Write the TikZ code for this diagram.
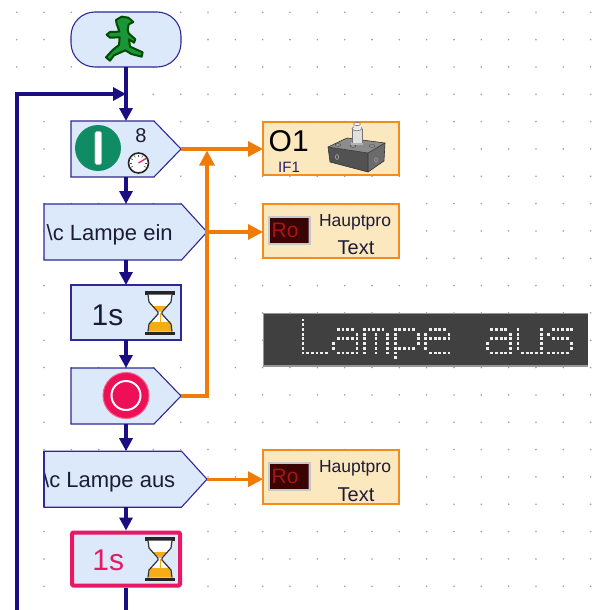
\documentclass[tikz,border=0pt]{standalone}
\usepackage{fontspec}
\setmainfont{Liberation Sans}
\usetikzlibrary{arrows.meta,calc}

\definecolor{flowline}{RGB}{26,14,130}
\definecolor{blockfill}{RGB}{220,233,251}
\definecolor{blockedge}{RGB}{48,40,150}
\definecolor{linkorange}{RGB}{240,124,8}
\definecolor{outfill}{RGB}{251,232,190}
\definecolor{outedge}{RGB}{242,140,30}
\definecolor{griddot}{RGB}{160,160,160}
\definecolor{ledbg}{RGB}{64,64,64}
\definecolor{ledframe}{RGB}{150,150,150}
\definecolor{leddot}{RGB}{240,240,240}
\definecolor{stopred}{RGB}{238,16,86}
\definecolor{stopedge}{RGB}{245,100,140}
\definecolor{gogreen}{RGB}{16,140,100}
\definecolor{walkgreen}{RGB}{26,150,56}
\definecolor{sand}{RGB}{245,172,22}
\definecolor{alertpink}{RGB}{232,24,100}
\definecolor{darktext}{RGB}{28,28,56}
\definecolor{porttext}{RGB}{40,30,110}
\definecolor{roframe}{RGB}{200,200,200}
\definecolor{robg}{RGB}{58,4,4}
\definecolor{rotext}{RGB}{170,20,20}
\definecolor{needle}{RGB}{235,40,110}

\tikzset{
  anchorbox/.style={rectangle, inner sep=0pt, outer sep=0pt, draw=none},
  blockshape/.style={fill=blockfill, draw=blockedge, line width=1.1pt},
  outshape/.style={fill=outfill, draw=outedge, line width=1.8pt},
  flow/.style={draw=flowline, line width=3.2pt, -{Triangle[length=13pt,width=13pt]}},
  flowplain/.style={draw=flowline, line width=3.2pt},
  linkline/.style={draw=linkorange, line width=3.2pt},
  link/.style={linkline, -{Triangle[length=15pt,width=15pt]}},
  leddot/.style={fill=leddot},
  bigtext/.style={font=\fontsize{30pt}{32pt}\selectfont},
  cmdtext/.style={font=\fontsize{22pt}{24pt}\selectfont, text=darktext},
}

% one dot-matrix glyph: #1 = left x, #2 = list of column/row dots
\newcommand{\ledglyph}[2]{%
  \foreach \c/\r in {#2}{%
    \fill[leddot] ({#1+4.65*\c-1.4},{320+4.72*\r-1.4}) rectangle ++(2.8,2.8);}}

% hourglass centred at (#1,#2)
\newcommand{\hglass}[2]{%
  \fill[black!85] ({#1-15},{#2-22}) rectangle ({#1+15},{#2-18.5});
  \fill[black!85] ({#1-15},{#2+18.5}) rectangle ({#1+15},{#2+22});
  \fill[white] ({#1-12},{#2-18.5}) -- ({#1-11},{#2-11}) -- ({#1-2},{#2-1}) -- ({#1-2},{#2+1})
    -- ({#1-11},{#2+11}) -- ({#1-12},{#2+18.5}) -- ({#1+12},{#2+18.5}) -- ({#1+11},{#2+11})
    -- ({#1+2},{#2+1}) -- ({#1+2},{#2-1}) -- ({#1+11},{#2-11}) -- ({#1+12},{#2-18.5}) -- cycle;
  \fill[sand] ({#1-7},{#2-7}) -- ({#1+7},{#2-7}) -- ({#1},{#2-1}) -- cycle;
  \fill[sand] ({#1-11.5},{#2+18.5}) -- ({#1-10},{#2+9}) -- ({#1+10},{#2+9}) -- ({#1+11.5},{#2+18.5}) -- cycle;
  \draw[sand, line width=1pt] ({#1},{#2}) -- ({#1},{#2+9});
  \draw[black!80, line width=1.2pt] ({#1-12},{#2-18.5}) -- ({#1-11},{#2-11}) -- ({#1-2},{#2-1})
    -- ({#1-2},{#2+1}) -- ({#1-11},{#2+11}) -- ({#1-12},{#2+18.5});
  \draw[black!80, line width=1.2pt] ({#1+12},{#2-18.5}) -- ({#1+11},{#2-11}) -- ({#1+2},{#2-1})
    -- ({#1+2},{#2+1}) -- ({#1+11},{#2+11}) -- ({#1+12},{#2+18.5});
}

% text display icon with frame at left x #1, top y #2
\newcommand{\roicon}[2]{%
  \fill[roframe] ({#1},{#2}) rectangle ({#1+43},{#2+29});
  \begin{scope}
    \clip ({#1+2},{#2+2}) rectangle ({#1+41},{#2+27});
    \fill[robg] ({#1+2},{#2+2}) rectangle ({#1+41},{#2+27});
    \node[anchor=base west, inner sep=0pt, text=rotext, font=\fontsize{21pt}{21pt}\selectfont]
      at ({#1+4},{#2+22}) {Ro};
  \end{scope}
}

\begin{document}
\begin{tikzpicture}[x=1pt, y=-1pt]
\useasboundingbox (0,0) rectangle (592,610);
\fill[white] (0,0) rectangle (592,610);

% dotted grid
\foreach \i in {0,...,21}{
  \foreach \j in {0,...,22}{
    \fill[griddot] ({16.7+27.33*\i},{12.3+27.33*\j}) circle (0.9);
  }
}

% ---- dot-matrix display ----
\fill[ledframe] (262.5,312.5) rectangle (588,366.5);
\fill[ledbg] (264,314) rectangle (588,365);
\node[anchorbox, minimum width=325pt, minimum height=54pt] (led) at (425.5,339.5) {};
\ledglyph{303}{0/0,0/1,0/2,0/3,0/4,0/5,0/6,0/7,1/7,2/7,3/7,4/7,5/7}
\ledglyph{333.7}{1/2,2/2,3/2,4/2,5/3,1/4,2/4,3/4,4/4,5/4,0/5,5/5,0/6,5/6,1/7,2/7,3/7,4/7,5/7}
\ledglyph{364.4}{0/2,1/2,2/2,3/2,4/2,0/3,0/4,0/5,0/6,0/7,2.5/3,2.5/4,2.5/5,2.5/6,2.5/7,5/3,5/4,5/5,5/6,5/7}
\ledglyph{395.1}{0/2,0/3,0/4,0/5,0/6,0/7,0/8,1/2,2/2,3/2,4/2,5/3,5/4,5/5,1/6,2/6,3/6,4/6}
\ledglyph{425.8}{1/2,2/2,3/2,4/2,0/3,5/3,0/4,1/4,2/4,3/4,4/4,5/4,0/5,0/6,1/7,2/7,3/7,4/7,5/7}
\ledglyph{487.2}{1/2,2/2,3/2,4/2,5/3,1/4,2/4,3/4,4/4,5/4,0/5,5/5,0/6,5/6,1/7,2/7,3/7,4/7,5/7}
\ledglyph{517.9}{0/2,0/3,0/4,0/5,0/6,5/2,5/3,5/4,5/5,5/6,5/7,1/7,2/7,3/7,4/7}
\ledglyph{548.6}{1/2,2/2,3/2,4/2,5/2,0/3,1/4,2/4,3/4,4/4,5/5,5/6,0/7,1/7,2/7,3/7,4/7}

% ---- block anchors ----
\node[anchorbox, minimum width=110pt, minimum height=55pt] (start) at (126,39.5) {};
\node[anchorbox, minimum width=110pt, minimum height=56pt] (out1) at (126,149) {};
\node[anchorbox, minimum width=163pt, minimum height=56pt] (txt1) at (125.5,232) {};
\node[anchorbox, minimum width=110pt, minimum height=55pt] (wait1) at (126,312.5) {};
\node[anchorbox, minimum width=110pt, minimum height=56pt] (stop) at (126,396) {};
\node[anchorbox, minimum width=163pt, minimum height=56pt] (txt2) at (125.5,479.2) {};
\node[anchorbox, minimum width=112pt, minimum height=57pt] (wait2) at (126,559) {};
\node[anchorbox, minimum width=136pt, minimum height=53pt] (o1box) at (331,148.5) {};
\node[anchorbox, minimum width=136pt, minimum height=54pt] (dsp1) at (331,231) {};
\node[anchorbox, minimum width=136pt, minimum height=54pt] (dsp2) at (331,477) {};

% ---- start terminal with walking figure ----
\draw[blockshape, rounded corners=24pt] (start.north west) rectangle (start.south east);
\begin{scope}[shift={(60,0)}, scale=1/3]
  \draw[fill=walkgreen, draw=black!70!green, line width=2pt, line join=round]
    (168,60) -- (185,50) -- (205,53) -- (220,66) -- (206,73) -- (203,88) -- (206,100)
    -- (226,118) -- (222,128) -- (207,118) -- (210,140) -- (248,157) -- (245,170)
    -- (214,162) -- (196,151) -- (162,166) -- (150,182) -- (138,172) -- (158,150)
    -- (177,135) -- (179,112) -- (150,113) -- (140,104) -- (150,96) -- (178,95)
    -- (175,85) -- (170,72) -- cycle;
\end{scope}

% ---- output block: lamp on, gauge ----
\draw[blockshape] (out1.north west) -- ([xshift=-27pt]out1.north east) -- (out1.east)
  -- ([xshift=-27pt]out1.south east) -- (out1.south west) -- cycle;
\fill[gogreen] (98,148) circle (23);
\draw[fill=white, draw=black!25, line width=0.6pt, rounded corners=1.5pt] (95,131.5) rectangle (101.5,164.5);
\node[anchor=base, inner sep=0pt, text=darktext, font=\fontsize{20pt}{20pt}\selectfont] at (141,142) {8};
\draw[fill=white, draw=black!85, line width=1.6pt] (138.5,163) circle (10);
\foreach \a in {150,180,210,240,270,300,330,0,30}{
  \draw[black!70, line width=0.6pt] ($(138.5,163)+(\a:6.5)$) -- ($(138.5,163)+(\a:8.5)$);
}
\draw[needle, line width=1.3pt] (138.5,163) -- (146,158.5);

% ---- command block: lamp text ----
\draw[blockshape] (txt1.north west) -- ([xshift=-25.5pt]txt1.north east) -- (txt1.east)
  -- ([xshift=-25.5pt]txt1.south east) -- (txt1.south west) -- cycle;
\node[cmdtext, anchor=base west, inner sep=0pt] at (46.5,240) {\textbackslash c Lampe ein};

% ---- wait block ----
\draw[blockshape] (wait1.north west) rectangle (wait1.south east);
\node[bigtext, anchor=base, inner sep=0pt, text=darktext] at (107.5,325) {1s};
\hglass{160}{313}

% ---- stop block ----
\draw[blockshape] (stop.north west) -- ([xshift=-27pt]stop.north east) -- (stop.east)
  -- ([xshift=-27pt]stop.south east) -- (stop.south west) -- cycle;
\draw[fill=stopred, draw=stopedge, line width=1pt] (126,395.5) circle (23);
\draw[white, line width=2pt] (126,395.5) circle (14.5);

% ---- command block: lamp off text ----
\draw[blockshape] (txt2.north west) -- ([xshift=-25.5pt]txt2.north east) -- (txt2.east)
  -- ([xshift=-25.5pt]txt2.south east) -- (txt2.south west) -- cycle;
\begin{scope}
  \clip (txt2.north west) rectangle (txt2.south east);
  \node[cmdtext, anchor=base west, inner sep=0pt] at (43,487.5) {\textbackslash c Lampe aus};
\end{scope}
\draw[draw=blockedge, line width=1.1pt] (txt2.north west) -- (txt2.south west);

% ---- highlighted wait block ----
\draw[fill=blockfill, draw=alertpink, line width=4pt, rounded corners=1.5pt]
  ([shift={(2pt,-2pt)}]wait2.north west) rectangle ([shift={(-2pt,2pt)}]wait2.south east);
\node[bigtext, anchor=base, inner sep=0pt, text=alertpink] at (108.3,570) {1s};
\hglass{160}{559}

% ---- lamp output O1 ----
\draw[outshape] (o1box.north west) rectangle (o1box.south east);
\node[bigtext, anchor=base west, inner sep=0pt, text=black] at (268.5,151.5) {O1};
\node[anchor=base west, inner sep=0pt, text=porttext, font=\fontsize{15pt}{15pt}\selectfont] at (278,172.5) {IF1};
% lamp module
\fill[black!68] (328,147) -- (368,153) -- (368,172) -- (330,162) -- cycle;
\fill[black!58] (368,153) -- (385,143) -- (384,161) -- (368,172) -- cycle;
\fill[black!45] (328,147) -- (347,138) -- (385,143) -- (368,153) -- cycle;
\draw[black!80, line width=0.6pt, line join=round] (328,147) -- (347,138) -- (385,143) -- (384,161)
  -- (368,172) -- (330,162) -- cycle;
\draw[black!80, line width=0.6pt] (328,147) -- (368,153) -- (385,143) (368,153) -- (368,172);
\foreach \p in {(338,145),(353,146),(360,142),(372,146)}{
  \draw[black!75, fill=black!35, line width=0.5pt] \p ellipse (2.6 and 1.3);
}
\draw[black!35, line width=0.6pt] (337,157) ellipse (1.6 and 2.4);
\draw[black!35, line width=0.6pt] (376,160) ellipse (1.4 and 2.2);
\fill[black!30] (351,142) rectangle (363,145);
\fill[black!12] (352,129) rectangle (362,143);
\draw[black!55, line width=0.6pt] (352,129) -- (352,143) (362,129) -- (362,143);
\draw[black!55, fill=black!5, line width=0.6pt] (357,128.5) ellipse (5 and 2.3);
\fill[black!8] (353.5,124) rectangle (360.5,128.5);
\draw[black!55, fill=white, line width=0.6pt] (357,124) ellipse (3.5 and 1.6);

% ---- text display outputs ----
\draw[outshape] (dsp1.north west) rectangle (dsp1.south east);
\roicon{267.5}{215.5}
\node[anchor=base, inner sep=0pt, text=darktext, font=\fontsize{17.5pt}{18pt}\selectfont] at (355,226) {Hauptpro};
\node[anchor=base, inner sep=0pt, text=darktext, font=\fontsize{20pt}{20pt}\selectfont] at (356,254) {Text};

\draw[outshape] (dsp2.north west) rectangle (dsp2.south east);
\roicon{267.5}{461.5}
\node[anchor=base, inner sep=0pt, text=darktext, font=\fontsize{17.5pt}{18pt}\selectfont] at (355,472.5) {Hauptpro};
\node[anchor=base, inner sep=0pt, text=darktext, font=\fontsize{20pt}{20pt}\selectfont] at (356,501) {Text};

% ---- program flow ----
\coordinate (merge) at (126,94);
\coordinate (loopfoot) at (17,612);
\coordinate (exit) at (126,612);
\draw[flow] (start.south) -- (out1.north);
\draw[flow] (loopfoot) |- (merge);
\draw[flow] (out1.south) -- (out1.south |- txt1.north);
\draw[flow] (out1.south |- txt1.south) -- (wait1.north);
\draw[flow] (wait1.south) -- (stop.north);
\draw[flow] (stop.south) -- (stop.south |- txt2.north);
\draw[flow] (stop.south |- txt2.south) -- (wait2.north);
\draw[flowplain] (wait2.south) -- (exit);

% ---- signal links ----
\coordinate (join) at (207,150.5);
\draw[link] (out1.east) -- (out1.east -| o1box.west);
\draw[link] (stop.east) -| (join);
\draw[link] (txt1.east) -- (txt1.east -| dsp1.west);
\draw[link] (txt2.east) -- (txt2.east -| dsp2.west);
\end{tikzpicture}
\end{document}
